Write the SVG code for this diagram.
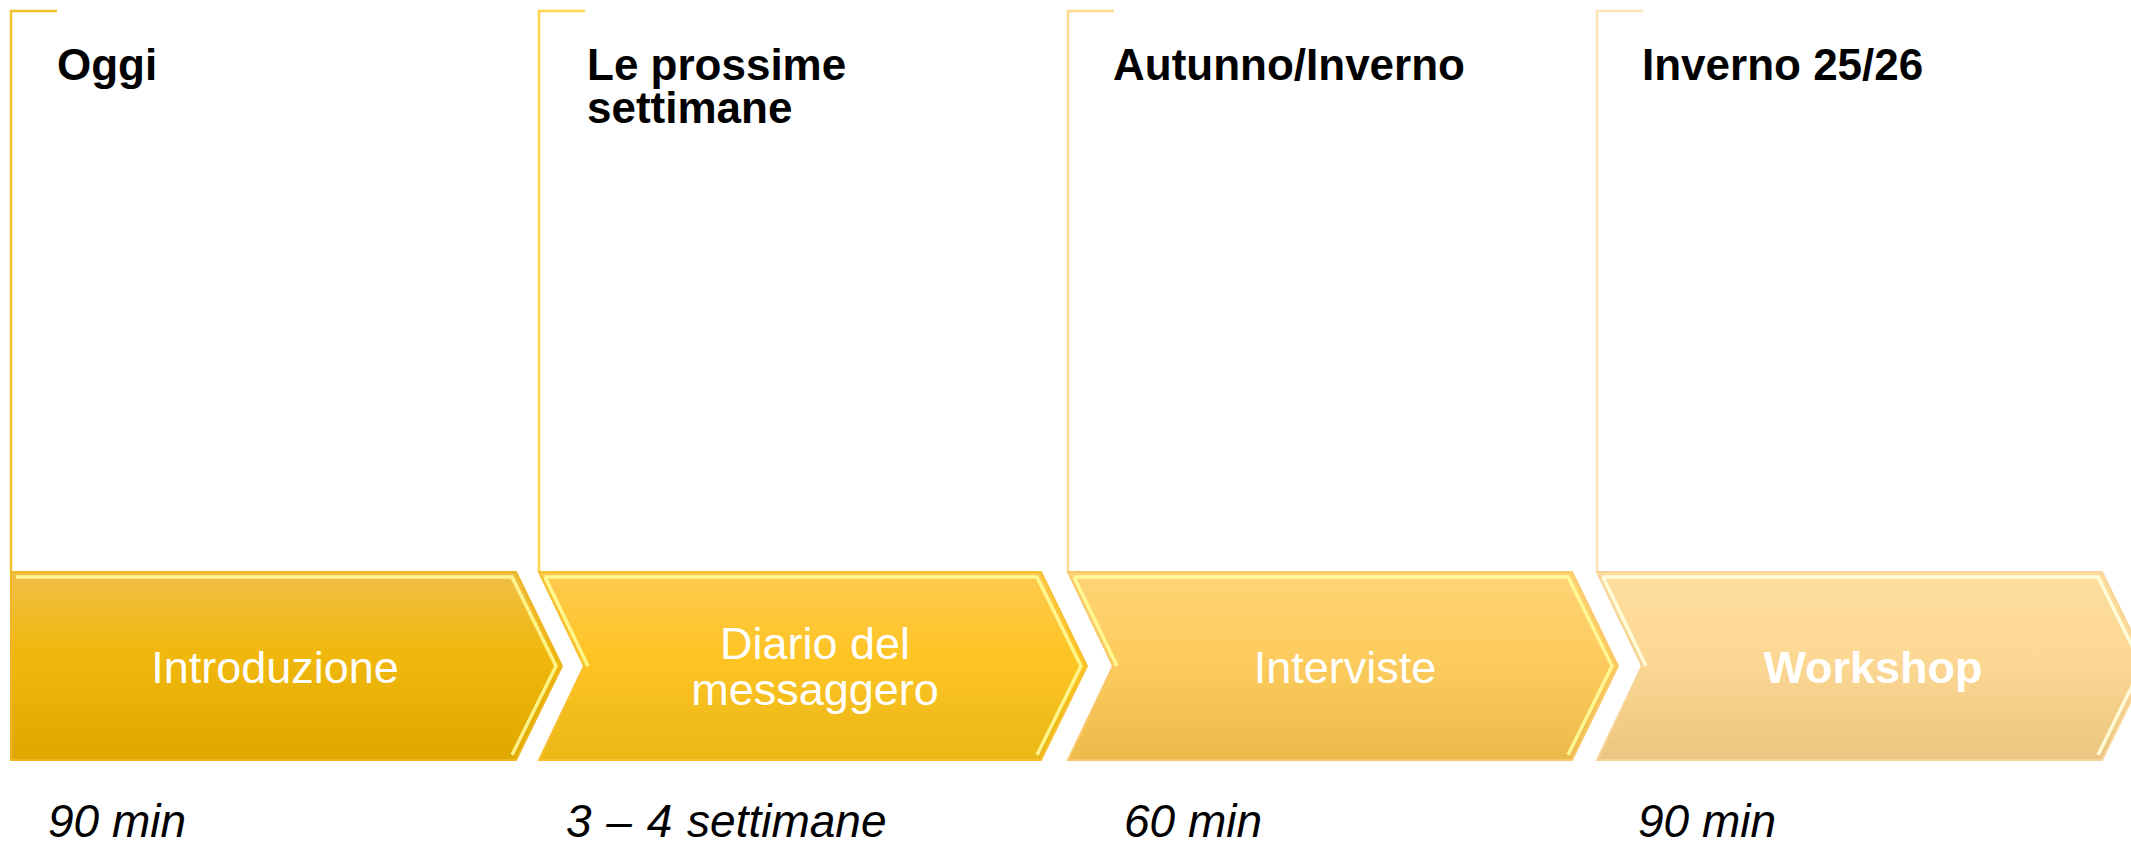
<svg xmlns="http://www.w3.org/2000/svg" width="2131" height="847" viewBox="0 0 2131 847">
<style>
.hdr{font-family:"Liberation Sans",Arial,sans-serif;font-weight:bold;font-size:44px;fill:#000}
.lbl{font-family:"Liberation Sans",Arial,sans-serif;font-size:45px;fill:#fff;text-anchor:middle}
.dur{font-family:"Liberation Sans",Arial,sans-serif;font-style:italic;font-size:46px;fill:#000}
.br{fill:none;stroke-width:2.5}
.hl{fill:none;stroke:#FFFF9C;stroke-width:3.5;stroke-linejoin:miter;opacity:0.85}
</style>
<defs>
<linearGradient id="g1" x1="0" y1="0" x2="0" y2="1">
<stop offset="0" stop-color="#F1BE48"/><stop offset="0.45" stop-color="#F0B70C"/><stop offset="1" stop-color="#E0A700"/>
</linearGradient>
<linearGradient id="g2" x1="0" y1="0" x2="0" y2="1">
<stop offset="0" stop-color="#FFCA50"/><stop offset="0.45" stop-color="#FEC424"/><stop offset="1" stop-color="#E9B716"/>
</linearGradient>
<linearGradient id="g3" x1="0" y1="0" x2="0" y2="1">
<stop offset="0" stop-color="#FED476"/><stop offset="0.45" stop-color="#FDCC5E"/><stop offset="1" stop-color="#EABB4A"/>
</linearGradient>
<linearGradient id="g4" x1="0" y1="0" x2="0" y2="1">
<stop offset="0" stop-color="#FEDD9E"/><stop offset="0.45" stop-color="#FCD894"/><stop offset="1" stop-color="#EAC680"/>
</linearGradient>
</defs>
<rect width="2131" height="847" fill="#fff"/>

<g id="step1">
<path class="br" stroke="#F2C232" d="M57,11 L11,11 L11,572"/>
<text class="hdr" x="57" y="80">Oggi</text>
<path d="M11,572 L516,572 L562,666 L516,760 L11,760 Z" fill="url(#g1)" stroke="#EDB520" stroke-width="2"/>
<path class="hl" d="M16,577 L512,577 L556,666 L512,755"/>
<text class="lbl" x="275" y="683">Introduzione</text>
<text class="dur" x="48" y="837">90 min</text>
</g>

<g id="step2">
<path class="br" stroke="#FFD452" d="M585,11 L539,11 L539,572"/>
<text class="hdr" x="587" y="80">Le prossime</text>
<text class="hdr" x="587" y="123">settimane</text>
<path d="M539,572 L1041,572 L1087,666 L1041,760 L539,760 L584,666 Z" fill="url(#g2)" stroke="#F8C030" stroke-width="2"/>
<path class="hl" d="M545,577 L1037,577 L1081,666 L1037,755"/>
<path class="hl" d="M545,577 L588,666"/>
<text class="lbl" x="815" y="659">Diario del</text>
<text class="lbl" x="815" y="705">messaggero</text>
<text class="dur" x="566" y="837" word-spacing="2">3 – 4 settimane</text>
</g>

<g id="step3">
<path class="br" stroke="#FFD98C" d="M1114,11 L1068,11 L1068,572"/>
<text class="hdr" x="1113" y="80">Autunno/Inverno</text>
<path d="M1068,572 L1572,572 L1618,666 L1572,760 L1068,760 L1113,666 Z" fill="url(#g3)" stroke="#FAC86A" stroke-width="2"/>
<path class="hl" d="M1074,577 L1568,577 L1612,666 L1568,755"/>
<path class="hl" d="M1074,577 L1117,666"/>
<text class="lbl" x="1345" y="683">Interviste</text>
<text class="dur" x="1124" y="837">60 min</text>
</g>

<g id="step4">
<path class="br" stroke="#FFE4B5" d="M1643,11 L1597,11 L1597,572"/>
<text class="hdr" x="1642" y="80">Inverno 25/26</text>
<path d="M1597,572 L2102,572 L2148,666 L2102,760 L1597,760 L1642,666 Z" fill="url(#g4)" stroke="#F8D498" stroke-width="2"/>
<path d="M1603,577 L2098,577 L2142,666 L2098,755" fill="none" stroke="#FFFFE0" stroke-width="3.5" opacity="0.9"/>
<path d="M1603,577 L1646,666" fill="none" stroke="#FFFFE0" stroke-width="3.5" opacity="0.9"/>
<text class="lbl" x="1873" y="683" font-weight="bold">Workshop</text>
<text class="dur" x="1638" y="837">90 min</text>
</g>

<g id="connectors"></g>
</svg>
